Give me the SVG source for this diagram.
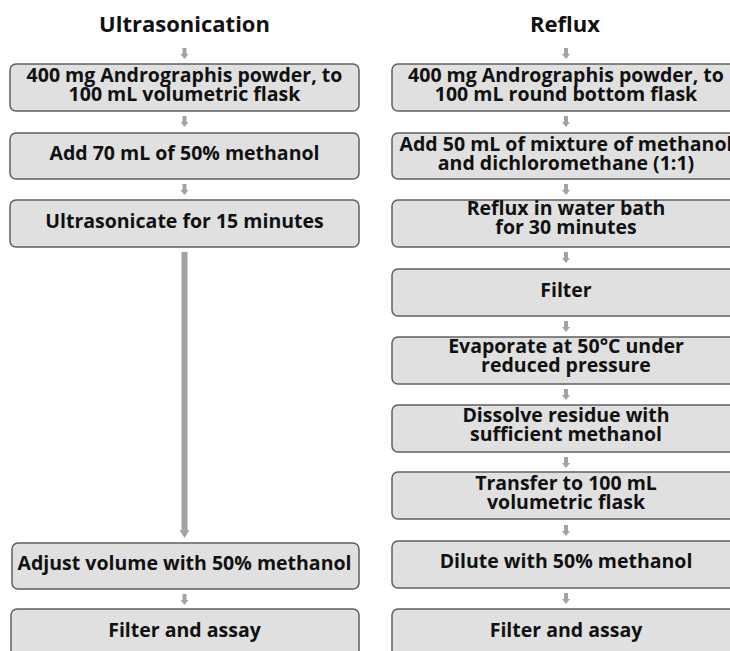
<svg xmlns="http://www.w3.org/2000/svg" width="730" height="651" viewBox="0 0 730 651">
<defs>
<style>
.box{fill:#e0e0e0;stroke:#5f5f5f;stroke-width:1.5}
.t{font-family:"Open Sans",Lato,sans-serif;font-weight:bold;font-size:19.5px;fill:#111;text-anchor:middle}
.h{font-family:"Open Sans",Lato,sans-serif;font-weight:bold;font-size:22px;fill:#111;text-anchor:middle}
.ar{fill:#a3a3a3}
</style>
<path id="sa" d="M-2,0 H2 V6 H4 L0,11 L-4,6 H-2 Z"/>
</defs>
<rect width="730" height="651" fill="#ffffff"/>
<text class="h" x="184.5" y="32">Ultrasonication</text>
<text class="h" x="565" y="32">Reflux</text>

<g id="connectors" class="ar">
<use href="#sa" x="184.5" y="48"/>
<use href="#sa" x="184.5" y="116"/>
<use href="#sa" x="184.5" y="184"/>
<path d="M181.5,252 H187.5 V530 H189.5 L184.5,538 L179.5,530 H181.5 Z"/>
<use href="#sa" x="184.5" y="594"/>
<use href="#sa" x="566" y="48"/>
<use href="#sa" x="566" y="116"/>
<use href="#sa" x="566" y="184"/>
<use href="#sa" x="566" y="252"/>
<use href="#sa" x="566" y="321"/>
<use href="#sa" x="566" y="389"/>
<use href="#sa" x="566" y="457"/>
<use href="#sa" x="566" y="525"/>
<use href="#sa" x="566" y="593"/>
</g>

<g id="u1"><rect class="box" x="10" y="64" width="349" height="47" rx="6"/>
<text class="t" x="184.5" y="81.5">400 mg Andrographis powder, to</text>
<text class="t" x="184.5" y="101">100 mL volumetric flask</text></g>
<g id="u2"><rect class="box" x="10" y="133" width="349" height="46" rx="6"/>
<text class="t" x="184.5" y="160">Add 70 mL of 50% methanol</text></g>
<g id="u3"><rect class="box" x="10" y="200" width="349" height="47" rx="6"/>
<text class="t" x="184.5" y="228">Ultrasonicate for 15 minutes</text></g>
<g id="u4"><rect class="box" x="12" y="543" width="347" height="46" rx="6"/>
<text class="t" x="184.5" y="570">Adjust volume with 50% methanol</text></g>
<g id="u5"><rect class="box" x="11" y="609" width="348" height="60" rx="6"/>
<text class="t" x="184.5" y="637">Filter and assay</text></g>

<g id="r1"><rect class="box" x="392" y="64" width="349" height="47" rx="6"/>
<text class="t" x="566" y="81.5">400 mg Andrographis powder, to</text>
<text class="t" x="566" y="101">100 mL round bottom flask</text></g>
<g id="r2"><rect class="box" x="392" y="133" width="349" height="46" rx="6"/>
<text class="t" x="566" y="150.5">Add 50 mL of mixture of methanol</text>
<text class="t" x="566" y="170">and dichloromethane (1:1)</text></g>
<g id="r3"><rect class="box" x="392" y="200" width="349" height="47" rx="6"/>
<text class="t" x="566" y="214.5">Reflux in water bath</text>
<text class="t" x="566" y="234">for 30 minutes</text></g>
<g id="r4"><rect class="box" x="392" y="269" width="349" height="47" rx="6"/>
<text class="t" x="566" y="297">Filter</text></g>
<g id="r5"><rect class="box" x="392" y="337" width="349" height="47" rx="6"/>
<text class="t" x="566" y="352.5">Evaporate at 50°C under</text>
<text class="t" x="566" y="372">reduced pressure</text></g>
<g id="r6"><rect class="box" x="392" y="405" width="349" height="47" rx="6"/>
<text class="t" x="566" y="421.5">Dissolve residue with</text>
<text class="t" x="566" y="441">sufficient methanol</text></g>
<g id="r7"><rect class="box" x="392" y="472" width="349" height="47" rx="6"/>
<text class="t" x="566" y="489.5">Transfer to 100 mL</text>
<text class="t" x="566" y="509">volumetric flask</text></g>
<g id="r8"><rect class="box" x="392" y="541" width="349" height="47" rx="6"/>
<text class="t" x="566" y="568">Dilute with 50% methanol</text></g>
<g id="r9"><rect class="box" x="392" y="609" width="349" height="60" rx="6"/>
<text class="t" x="566" y="637">Filter and assay</text></g>
</svg>
